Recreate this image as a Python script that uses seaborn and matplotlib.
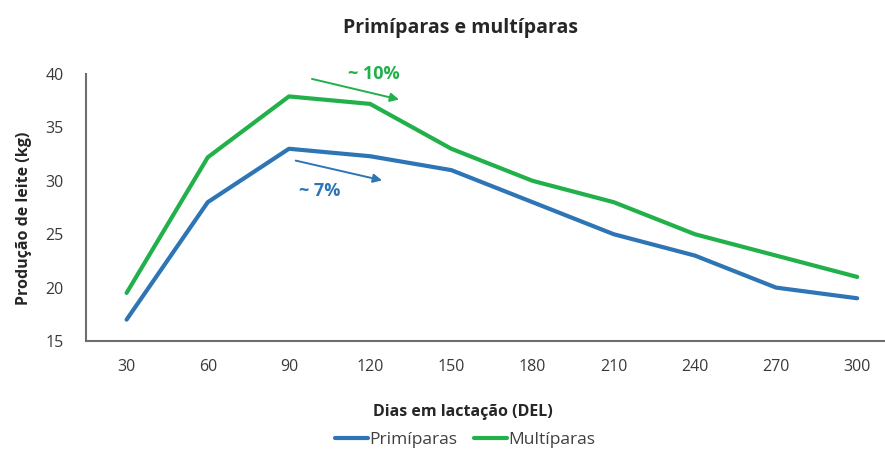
import pandas as pd
import seaborn as sns
import matplotlib.pyplot as plt

# data
dias = ["30", "60", "90", "120", "150", "180", "210", "240", "270", "300"]
primiparas = [17.0, 28.0, 33.0, 32.3, 31.0, 28.0, 25.0, 23.0, 20.0, 19.0]
multiparas = [19.5, 32.2, 37.9, 37.2, 33.0, 30.0, 28.0, 25.0, 23.0, 21.0]
series_names = ["Primíparas", "Multíparas"]

palette = {"Primíparas": "#2E75B6", "Multíparas": "#22B04B"}

df = pd.DataFrame({
    "dias": dias * 2,
    "producao": primiparas + multiparas,
    "grupo": [series_names[0]] * len(dias) + [series_names[1]] * len(dias),
})

sns.set_style("white")
plt.rcParams.update({
    "font.family": ["Open Sans", "DejaVu Sans"],
    "font.size": 11,
})

fig = plt.figure(figsize=(8.85, 4.5), dpi=100)
ax = fig.add_axes([86 / 885, 1 - 341 / 450, (884 - 86) / 885, (341 - 74) / 450])

sns.lineplot(data=df, x="dias", y="producao", hue="grupo", palette=palette,
             linewidth=3.0, ax=ax, sort=False)

ax.set_ylim(15, 40)
ax.set_xlim(-0.5, 9.33)
ax.set_yticks([15, 20, 25, 30, 35, 40])
ax.tick_params(axis="both", length=0, labelsize=11.5, colors="#3a3a3a")
ax.tick_params(axis="x", pad=13)
ax.tick_params(axis="y", pad=16)
for s in ["top", "right"]:
    ax.spines[s].set_visible(False)
for s in ["left", "bottom"]:
    ax.spines[s].set_color("#6e6e6e")
    ax.spines[s].set_linewidth(1.5)

ax.set_xlabel("Dias em lactação (DEL)", fontweight="bold", fontsize=11.5)
ax.xaxis.set_label_coords(0.472, -0.235)
ax.set_ylabel("Produção de leite (kg)", fontweight="bold", fontsize=11.5)
ax.yaxis.set_label_coords(-0.068, 0.46)
fig.text(0.52, 1 - 28 / 450, "Primíparas e multíparas", fontweight="bold", fontsize=14,
         ha="center", va="center")

# annotations
ax.annotate("", xy=(3.39, 37.55), xytext=(2.25, 39.6),
            arrowprops=dict(arrowstyle="-|>", color=palette["Multíparas"], lw=1.4, mutation_scale=13))
ax.text(3.05, 40.0, "~ 10%", color=palette["Multíparas"], fontweight="bold", fontsize=13,
        ha="center", va="center")
ax.annotate("", xy=(3.18, 29.98), xytext=(2.05, 31.95),
            arrowprops=dict(arrowstyle="-|>", color=palette["Primíparas"], lw=1.4, mutation_scale=13))
ax.text(2.38, 29.05, "~ 7%", color=palette["Primíparas"], fontweight="bold", fontsize=13,
        ha="center", va="center")

leg = ax.legend(loc="center", ncol=2, frameon=False, handlelength=1.9, handletextpad=0.05,
                columnspacing=1.0, fontsize=12.5, borderpad=0)
for t in leg.get_texts():
    t.set_color("#404040")
for line in leg.get_lines():
    line.set_linewidth(3.0)
leg.set_bbox_to_anchor((465 / 885, 1 - 440 / 450), transform=fig.transFigure)

fig.savefig("out.png", dpi=100)
